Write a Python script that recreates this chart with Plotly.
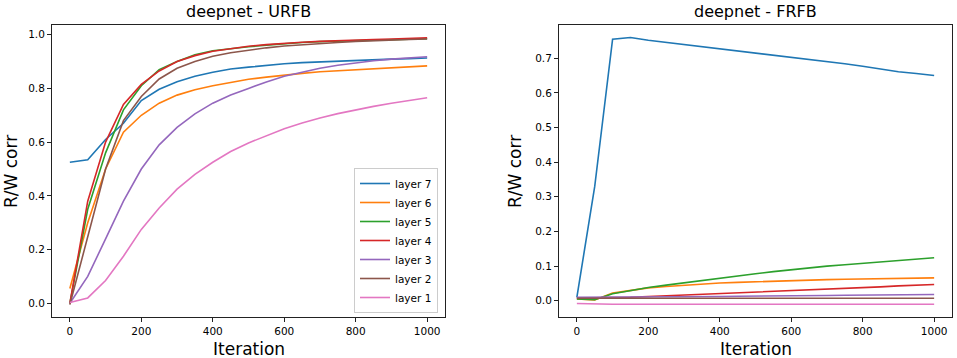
import plotly.graph_objects as go

iterations = [0, 50, 100, 150, 200, 250, 300, 350, 400, 450, 500, 550, 600, 650, 700, 750, 800, 850, 900, 950, 1000]
layer_names = ["layer 7", "layer 6", "layer 5", "layer 4", "layer 3", "layer 2", "layer 1"]
colors = ["#1f77b4", "#ff7f0e", "#2ca02c", "#d62728", "#9467bd", "#8c564b", "#e377c2"]

# URFB (left panel)
urfb_l7 = [0.525, 0.534, 0.61, 0.67, 0.755, 0.797, 0.825, 0.845, 0.86, 0.872, 0.879, 0.886, 0.892, 0.896, 0.899, 0.902, 0.905, 0.907, 0.909, 0.911, 0.913]
urfb_l6 = [0.055, 0.30, 0.50, 0.637, 0.70, 0.745, 0.775, 0.795, 0.81, 0.823, 0.834, 0.842, 0.85, 0.856, 0.862, 0.866, 0.870, 0.874, 0.878, 0.881, 0.884]
urfb_l5 = [0.0, 0.35, 0.56, 0.72, 0.81, 0.87, 0.90, 0.925, 0.94, 0.948, 0.955, 0.961, 0.967, 0.971, 0.974, 0.976, 0.978, 0.980, 0.982, 0.983, 0.985]
urfb_l4 = [0.0, 0.38, 0.60, 0.74, 0.815, 0.865, 0.90, 0.922, 0.938, 0.948, 0.957, 0.963, 0.968, 0.972, 0.975, 0.978, 0.980, 0.982, 0.984, 0.986, 0.988]
urfb_l3 = [0.0, 0.10, 0.24, 0.38, 0.50, 0.59, 0.655, 0.705, 0.745, 0.775, 0.80, 0.824, 0.845, 0.861, 0.875, 0.886, 0.895, 0.903, 0.909, 0.914, 0.918]
urfb_l2 = [-0.005, 0.25, 0.50, 0.68, 0.77, 0.835, 0.875, 0.90, 0.92, 0.933, 0.943, 0.951, 0.958, 0.963, 0.967, 0.971, 0.975, 0.978, 0.980, 0.982, 0.984]
urfb_l1 = [0.003, 0.02, 0.085, 0.175, 0.275, 0.355, 0.425, 0.48, 0.525, 0.565, 0.597, 0.625, 0.65, 0.671, 0.69, 0.706, 0.72, 0.733, 0.745, 0.756, 0.765]

# FRFB (right panel)
frfb_l7 = [0.01, 0.33, 0.755, 0.76, 0.752, 0.746, 0.74, 0.732, 0.727, 0.721, 0.715, 0.709, 0.703, 0.697, 0.69, 0.684, 0.677, 0.669, 0.661, 0.656, 0.65]
frfb_l6 = [0.005, 0.002, 0.022, 0.03, 0.037, 0.041, 0.045, 0.048, 0.051, 0.053, 0.055, 0.057, 0.059, 0.060, 0.061, 0.062, 0.063, 0.064, 0.065, 0.0655, 0.066]
frfb_l5 = [0.005, 0.003, 0.02, 0.03, 0.038, 0.045, 0.052, 0.059, 0.066, 0.072, 0.078, 0.084, 0.09, 0.095, 0.10, 0.104, 0.108, 0.112, 0.116, 0.120, 0.124]
frfb_l4 = [0.008, 0.008, 0.008, 0.010, 0.012, 0.014, 0.016, 0.018, 0.020, 0.022, 0.025, 0.027, 0.029, 0.031, 0.034, 0.036, 0.038, 0.040, 0.043, 0.045, 0.047]
frfb_l3 = [0.010, 0.010, 0.010, 0.010, 0.010, 0.011, 0.011, 0.012, 0.012, 0.013, 0.013, 0.014, 0.014, 0.015, 0.015, 0.016, 0.016, 0.017, 0.017, 0.018, 0.018]
frfb_l2 = [0.007, 0.007, 0.007, 0.007, 0.007, 0.007, 0.007, 0.007, 0.007, 0.007, 0.007, 0.007, 0.007, 0.007, 0.007, 0.007, 0.007, 0.007, 0.007, 0.007, 0.007]
frfb_l1 = [-0.008, -0.010, -0.010, -0.010, -0.010, -0.010, -0.010, -0.010, -0.010, -0.010, -0.010, -0.010, -0.010, -0.010, -0.010, -0.010, -0.010, -0.010, -0.010, -0.010, -0.010]

urfb = [urfb_l7, urfb_l6, urfb_l5, urfb_l4, urfb_l3, urfb_l2, urfb_l1]
frfb = [frfb_l7, frfb_l6, frfb_l5, frfb_l4, frfb_l3, frfb_l2, frfb_l1]

x_ticks = [0, 200, 400, 600, 800, 1000]
left_y_ticks = [0.0, 0.2, 0.4, 0.6, 0.8, 1.0]
right_y_ticks = [0.0, 0.1, 0.2, 0.3, 0.4, 0.5, 0.6, 0.7]

fig = go.Figure()
for name, col, ys in zip(layer_names, colors, urfb):
    fig.add_trace(go.Scatter(x=iterations, y=ys, mode="lines", name=name,
                             line=dict(color=col, width=1.6), xaxis="x", yaxis="y"))
for name, col, ys in zip(layer_names, colors, frfb):
    fig.add_trace(go.Scatter(x=iterations, y=ys, mode="lines", name=name, showlegend=False,
                             line=dict(color=col, width=1.6), xaxis="x2", yaxis="y2"))

W, H = 957, 358
ydom = [(H - 317) / H, (H - 25) / H]
axis_common = dict(showline=True, linecolor="#222222", linewidth=1, mirror=True,
                   ticks="outside", ticklen=4, tickcolor="#222222", showgrid=False,
                   zeroline=False, ticklabeloverflow="allow",
                   tickfont=dict(size=10.5, color="black", family="DejaVu Sans"))

fig.update_layout(
    width=W, height=H,
    margin=dict(l=0, r=0, t=0, b=0),
    paper_bgcolor="white", plot_bgcolor="white",
    font=dict(family="DejaVu Sans", color="black"),
    xaxis=dict(domain=[52 / W, 445 / W], range=[-50, 1050], tickvals=x_ticks,
               ticktext=[str(v) for v in x_ticks], anchor="y", **axis_common),
    yaxis=dict(domain=ydom, range=[-0.051, 1.036], tickvals=left_y_ticks,
               ticktext=[f"{v:.1f}" for v in left_y_ticks], anchor="x", **axis_common),
    xaxis2=dict(domain=[559 / W, 952 / W], range=[-50, 1050], tickvals=x_ticks,
                ticktext=[str(v) for v in x_ticks], anchor="y2", **axis_common),
    yaxis2=dict(domain=ydom, range=[-0.047, 0.796], tickvals=right_y_ticks,
                ticktext=[f"{v:.1f}" for v in right_y_ticks], anchor="x2", **axis_common),
    legend=dict(x=438 / W, y=(H - 313) / H, xanchor="right", yanchor="bottom",
                bgcolor="rgba(255,255,255,0.8)", bordercolor="#cccccc", borderwidth=1,
                font=dict(size=10.5, family="DejaVu Sans"), tracegroupgap=0,
                itemwidth=30),
    showlegend=True,
)

annotations = [
    dict(text="deepnet - URFB", x=(52 + 445) / 2 / W, y=(H - 12) / H, xref="paper", yref="paper",
         showarrow=False, font=dict(size=16), xanchor="center", yanchor="middle"),
    dict(text="deepnet - FRFB", x=(559 + 952) / 2 / W, y=(H - 12) / H, xref="paper", yref="paper",
         showarrow=False, font=dict(size=16), xanchor="center", yanchor="middle"),
    dict(text="Iteration", x=(52 + 445) / 2 / W, y=(H - 349) / H, xref="paper", yref="paper",
         showarrow=False, font=dict(size=17), xanchor="center", yanchor="middle"),
    dict(text="Iteration", x=(559 + 952) / 2 / W, y=(H - 349) / H, xref="paper", yref="paper",
         showarrow=False, font=dict(size=17), xanchor="center", yanchor="middle"),
    dict(text="R/W corr", x=11 / W, y=(H - 172) / H, xref="paper", yref="paper", textangle=-90,
         showarrow=False, font=dict(size=17), xanchor="center", yanchor="middle"),
    dict(text="R/W corr", x=515 / W, y=(H - 172) / H, xref="paper", yref="paper", textangle=-90,
         showarrow=False, font=dict(size=17), xanchor="center", yanchor="middle"),
]
fig.update_layout(annotations=annotations)

fig.write_html("out.html", config={"displayModeBar": False},
               post_script="document.body.style.margin='0';document.body.style.overflow='hidden';")
